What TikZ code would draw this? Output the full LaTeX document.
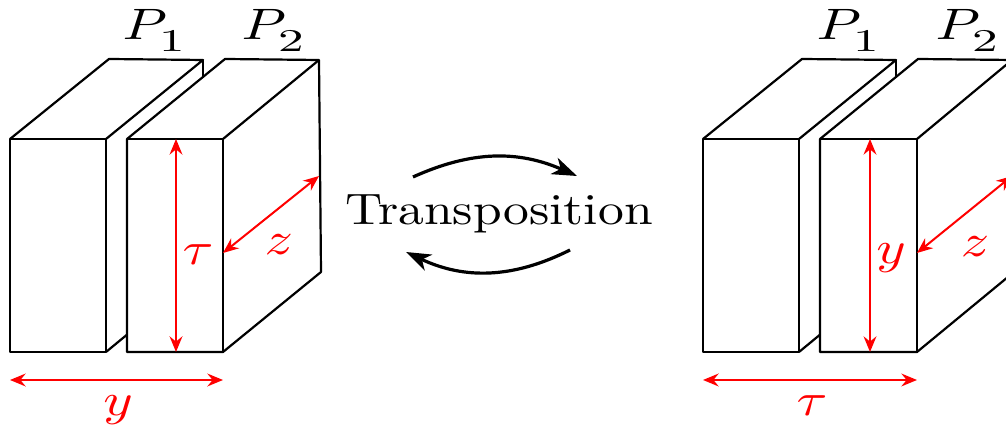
\documentclass[tikz,border=0pt]{standalone}
\usetikzlibrary{arrows.meta}
\newcommand{\subnum}[1]{\raisebox{-1.2pt}{\scalebox{0.9}[0.72]{$\textstyle #1$}}}
\begin{document}
\begin{tikzpicture}[x=0.25pt, y=-0.25pt, line width=0.55pt, line join=round,
    lbl/.style={xscale=1.4, yscale=1.15, inner sep=0pt, anchor=base},
    plate/.style={xscale=1.42, yscale=1.1, inner sep=0pt, anchor=base},
    dim/.style={{Stealth[length=3.9pt,width=3.2pt,inset=1.3pt]}-{Stealth[length=3.9pt,width=3.2pt,inset=1.3pt]}, red, line width=0.5pt},
    swap/.style={-{Stealth[length=6.2pt,width=4.4pt,inset=1.8pt]}, line width=0.8pt}]
    \useasboundingbox (0,0) rectangle (1006,425);
    \clip (0,0) rectangle (1006,425);

    % left pair
    \coordinate (A1) at (10,139);
    \coordinate (B1) at (106,139);
    \coordinate (C1) at (106,352);
    \coordinate (D1) at (10,352);
    \coordinate (E1) at (109,59);
    \coordinate (F1) at (203,60);
    \coordinate (G1) at (203,160);
    \coordinate (H1) at (203,272);

    \coordinate (A2) at (127,139);
    \coordinate (B2) at (223,139);
    \coordinate (C2) at (223,352);
    \coordinate (D2) at (127,352);
    \coordinate (E2) at (225,59);
    \coordinate (F2) at (319,60);
    \coordinate (G2) at (321,272);
    \coordinate (M2) at (223,253);
    \coordinate (N2) at (319,176);
    \coordinate (T2) at (176,139);
    \coordinate (U2) at (176,352);
    \coordinate (Y1) at (10,380);
    \coordinate (Y2) at (223,380);

    \draw (A1) -- (B1) -- (C1) -- (D1) -- cycle;
    \draw (A1) -- (E1) -- (F1) -- (B1);
    \draw (F1) -- (G1);
    \draw (C1) -- (H1);
    \draw[fill=white] (D2) -- (A2) -- (E2) -- (F2) -- (G2) -- (C2) -- cycle;
    \draw (A2) -- (B2) -- (C2);
    \draw (B2) -- (F2);

    \draw[dim] (T2) -- (U2);
    \draw[dim] (M2) -- (N2);
    \draw[dim] (Y1) -- (Y2);

    \node[plate] (P1) at (155,40) {$P_{\subnum{1}}$};
    \node[plate] (P2) at (274,40) {$P_{\subnum{2}}$};
    \node[lbl, red] (tau) at (198,265) {$\tau$};
    \node[lbl, red] (z) at (279,255) {$z$};
    \node[lbl, red] (y) at (118,416) {$y$};

    % right pair
    \coordinate (a1) at (703,139);
    \coordinate (b1) at (799,139);
    \coordinate (c1) at (799,352);
    \coordinate (d1) at (703,352);
    \coordinate (e1) at (802,59);
    \coordinate (f1) at (896,60);
    \coordinate (g1) at (896,160);
    \coordinate (h1) at (896,272);

    \coordinate (a2) at (820,139);
    \coordinate (b2) at (917,139);
    \coordinate (c2) at (917,352);
    \coordinate (d2) at (820,352);
    \coordinate (e2) at (918,59);
    \coordinate (f2) at (1012,60);
    \coordinate (g2) at (1014,272);
    \coordinate (m2) at (917,253);
    \coordinate (n2) at (1012,176);
    \coordinate (t2) at (870,139);
    \coordinate (u2) at (870,352);
    \coordinate (y1) at (703,380);
    \coordinate (y2) at (917,380);

    \draw (a1) -- (b1) -- (c1) -- (d1) -- cycle;
    \draw (a1) -- (e1) -- (f1) -- (b1);
    \draw (f1) -- (g1);
    \draw (c1) -- (h1);
    \draw[fill=white] (d2) -- (a2) -- (e2) -- (f2) -- (g2) -- (c2) -- cycle;
    \draw (a2) -- (b2) -- (c2);
    \draw (b2) -- (f2);

    \draw[dim] (t2) -- (u2);
    \draw[dim] (m2) -- (n2);
    \draw[dim] (y1) -- (y2);

    \node[plate] (p1) at (849,40) {$P_{\subnum{1}}$};
    \node[plate] (p2) at (968,40) {$P_{\subnum{2}}$};
    \node[lbl, red] (yy) at (891,264) {$y$};
    \node[lbl, red] (zz) at (975,257) {$z$};
    \node[lbl, red] (tt) at (812,416) {$\tau$};

    % middle
    \node[xscale=1.29, yscale=1.1, inner sep=0pt, anchor=base] (trans) at (499,225) {Transposition};
    \coordinate (S1) at (413,177);
    \coordinate (S2) at (577,176);
    \coordinate (S3) at (570,250);
    \coordinate (S4) at (406,252);
    \draw[swap] (S1) to[bend left=24] (S2);
    \draw[swap] (S3) to[bend left=26] (S4);
\end{tikzpicture}
\end{document}
